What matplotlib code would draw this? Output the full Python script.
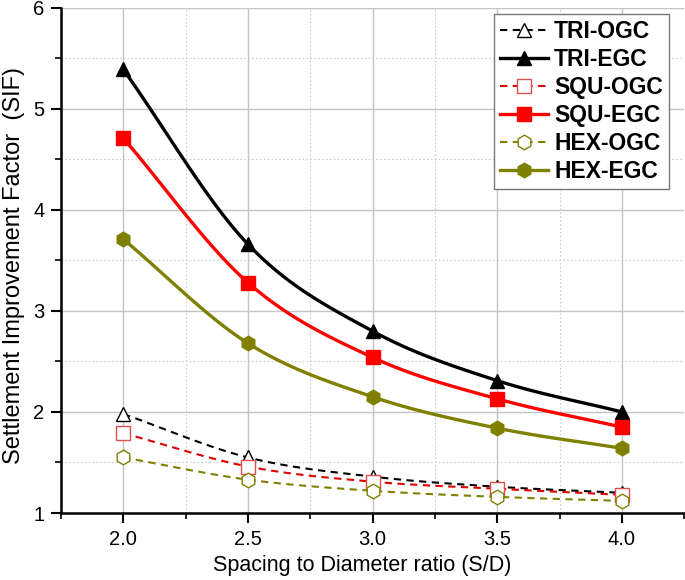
import numpy as np
import matplotlib
matplotlib.use("Agg")
import matplotlib.pyplot as plt
from matplotlib.ticker import MultipleLocator

plt.rcParams['font.family'] = ['Liberation Sans', 'DejaVu Sans']

sd = [2.0, 2.5, 3.0, 3.5, 4.0]
tri_ogc = [1.98, 1.55, 1.36, 1.26, 1.20]
tri_egc = [5.39, 3.66, 2.80, 2.31, 2.00]
squ_ogc = [1.79, 1.46, 1.31, 1.24, 1.18]
squ_egc = [4.71, 3.28, 2.54, 2.13, 1.85]
hex_ogc = [1.55, 1.33, 1.22, 1.16, 1.12]
hex_egc = [3.71, 2.68, 2.15, 1.84, 1.64]


def smooth(x, y, n=30):
    # catmull-rom curve through the points, returns dense line + marker indices
    x = np.asarray(x, float)
    y = np.asarray(y, float)
    px = np.concatenate([[2 * x[0] - x[1]], x, [2 * x[-1] - x[-2]]])
    py = np.concatenate([[2 * y[0] - y[1]], y, [2 * y[-1] - y[-2]]])
    xs, ys, marks = [], [], []
    for i in range(1, len(px) - 2):
        t = np.linspace(0, 1, n, endpoint=False)
        if i == len(px) - 3:
            t = np.linspace(0, 1, n + 1)
        for p, out in ((px, xs), (py, ys)):
            p0, p1, p2, p3 = p[i - 1], p[i], p[i + 1], p[i + 2]
            out.extend(0.5 * (2 * p1 + (-p0 + p2) * t
                              + (2 * p0 - 5 * p1 + 4 * p2 - p3) * t ** 2
                              + (-p0 + 3 * p1 - 3 * p2 + p3) * t ** 3))
        marks.append((i - 1) * n)
    marks.append(len(xs) - 1)
    return np.array(xs), np.array(ys), marks


fig = plt.figure(figsize=(6.85, 5.8), dpi=100)
ax = fig.add_axes([0.089, 0.1155, 0.91, 0.871])

olive = '#808000'
series = [
    ('TRI-OGC', tri_ogc, 'black', '^', 'white', 'black', '--', 1.5),
    ('TRI-EGC', tri_egc, 'black', '^', 'black', 'black', '-', 2.4),
    ('SQU-OGC', squ_ogc, '#e00000', 's', 'white', '#e05050', '--', 1.5),
    ('SQU-EGC', squ_egc, '#ff0000', 's', '#ff0000', '#ff0000', '-', 2.4),
    ('HEX-OGC', hex_ogc, olive, 'h', 'white', olive, '--', 1.5),
    ('HEX-EGC', hex_egc, olive, 'h', olive, olive, '-', 2.4),
]
for name, vals, col, mk, mfc, mec, ls, lw in series:
    xs, ys, marks = smooth(sd, vals)
    kw = dict(dashes=(3.5, 2.6)) if ls == '--' else {}
    ax.plot(xs, ys, color=col, lw=lw, ls=ls, marker=mk, markevery=marks,
            ms=9.5 if mk != 'h' else 10.5, mfc=mfc, mec=mec, mew=1.0,
            label=name, zorder=3, **kw)

ax.set_xlim(1.75, 4.25)
ax.set_ylim(1, 6)
ax.xaxis.set_major_locator(MultipleLocator(0.5))
ax.xaxis.set_minor_locator(MultipleLocator(0.25))
ax.yaxis.set_major_locator(MultipleLocator(1))
ax.yaxis.set_minor_locator(MultipleLocator(0.5))
ax.xaxis.set_major_formatter(plt.FormatStrFormatter('%.1f'))
ax.set_xticks([2.0, 2.5, 3.0, 3.5, 4.0])

ax.grid(which='major', color='#c4c4c4', lw=1.0, ls='-', zorder=0)
ax.grid(which='minor', color='#cccccc', lw=0.8, ls=(0, (1.5, 2)), zorder=0)
ax.set_axisbelow(True)

for s in ['top', 'right']:
    ax.spines[s].set_visible(False)
for s in ['left', 'bottom']:
    ax.spines[s].set_linewidth(1.8)
ax.tick_params(which='major', direction='out', length=7, width=1.5,
               labelsize=14.5, pad=5)
ax.tick_params(which='minor', direction='out', length=4, width=1.2)

ax.set_xlabel('Spacing to Diameter ratio (S/D)', fontsize=15.5)
ax.set_ylabel('Settlement Improvement Factor  (SIF)', fontsize=17)
ax.xaxis.set_label_coords(0.484, -0.083)
ax.yaxis.set_label_coords(-0.058, 0.49)

leg = ax.legend(loc='upper right', bbox_to_anchor=(0.982, 0.996),
                prop={'weight': 'bold', 'size': 16.5}, fancybox=False,
                edgecolor='#777777', framealpha=1, borderpad=0.25,
                labelspacing=0.22, handlelength=2.1, handletextpad=0.25,
                borderaxespad=0.2)
leg.get_frame().set_linewidth(1.0)

fig.savefig('out.png', dpi=100)
